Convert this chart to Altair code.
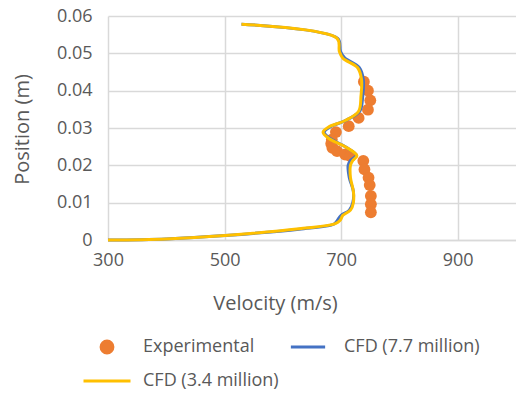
import altair as alt
import pandas as pd

# ---- data ----
series_names = ["Experimental", "CFD (7.7 million)", "CFD (3.4 million)"]
series_colors = ["#ED7D31", "#4472C4", "#FFC000"]

exp_vel = [739, 746, 750, 746, 730, 713, 691, 684, 683, 685, 693, 707, 716, 738, 740, 747, 749, 751, 751, 751]
exp_pos = [0.0424, 0.0400, 0.0374, 0.0349, 0.0327, 0.0305, 0.0289, 0.0269, 0.0258, 0.0247,
           0.0238, 0.0229, 0.0225, 0.0212, 0.0189, 0.0167, 0.0147, 0.0118, 0.0096, 0.0074]

cfd77_vel = [300, 400, 501, 628, 688, 694, 700, 714, 720, 721, 714, 712, 716, 726, 708, 681,
             671, 681, 709, 732, 737, 738, 731, 706, 699, 694, 529]
cfd77_pos = [0.0000, 0.0003, 0.0012, 0.0029, 0.0043, 0.0054, 0.0066, 0.0080, 0.0100, 0.0130,
             0.0167, 0.0200, 0.0213, 0.0227, 0.0249, 0.0272, 0.0289, 0.0303, 0.0321, 0.0345,
             0.0385, 0.0430, 0.0462, 0.0488, 0.0505, 0.0540, 0.0578]

cfd34_vel = [300, 400, 501, 628, 690, 698, 703, 716, 721, 721, 716, 716, 720, 727, 707, 679,
             669, 679, 707, 730, 734, 735, 728, 703, 697, 693, 529]
cfd34_pos = [0.0000, 0.0003, 0.0012, 0.0030, 0.0044, 0.0052, 0.0066, 0.0080, 0.0100, 0.0130,
             0.0167, 0.0200, 0.0213, 0.0226, 0.0250, 0.0272, 0.0289, 0.0303, 0.0320, 0.0345,
             0.0385, 0.0430, 0.0462, 0.0487, 0.0505, 0.0540, 0.0578]

x_ticks = [300, 500, 700, 900]
y_ticks = [0, 0.01, 0.02, 0.03, 0.04, 0.05, 0.06]

# ---- tables ----
exp_df = pd.DataFrame({"vel": exp_vel, "pos": exp_pos, "series": series_names[0]})
exp_df["idx"] = range(len(exp_df))
l1 = pd.DataFrame({"vel": cfd77_vel, "pos": cfd77_pos, "series": series_names[1]})
l1["idx"] = range(len(l1))
l2 = pd.DataFrame({"vel": cfd34_vel, "pos": cfd34_pos, "series": series_names[2]})
l2["idx"] = range(len(l2))
line_df = pd.concat([l1, l2], ignore_index=True)

FONT = "Open Sans"
TXT = "#595959"
GRID = "#D9D9D9"

legend = alt.Legend(
    title=None, orient="none", legendX=-26, legendY=321, columns=2,
    direction="horizontal", clipHeight=20, rowPadding=14, columnPadding=4,
    labelOffset=11, symbolStrokeWidth=3, labelFont=FONT, labelFontSize=18,
    labelColor=TXT, padding=0, symbolOffset=0,
)

color = alt.Color("series:N", scale=alt.Scale(domain=series_names, range=series_colors), legend=legend)

x = alt.X("vel:Q", scale=alt.Scale(domain=[300, 1000], nice=False, zero=False),
          axis=alt.Axis(values=x_ticks, title="Velocity (m/s)", labelPadding=11, labelFlush=False,
                        titleX=167, titleY=69, titleBaseline="alphabetic", titleAlign="center",
                        domain=True, domainColor=GRID, domainWidth=1.5))
y = alt.Y("pos:Q", scale=alt.Scale(domain=[0, 0.06], nice=False),
          axis=alt.Axis(values=y_ticks, title="Position (m)", labelPadding=16, labelFlush=False,
                        labelExpr="datum.value == 0 ? '0' : format(datum.value, '.2f')",
                        titleX=-80, titleY=113, titleBaseline="alphabetic", titleAlign="center",
                        domain=False))

points = alt.Chart(exp_df).mark_point(filled=True, opacity=1).encode(
    x=x, y=y, color=color,
    shape=alt.Shape("series:N", scale=alt.Scale(domain=series_names, range=["circle", "stroke", "stroke"]), legend=legend),
    size=alt.Size("series:N", scale=alt.Scale(domain=series_names, range=[140, 2209, 2209]), legend=legend),
)

lines = alt.Chart(line_df).mark_line(strokeWidth=3, interpolate="catmull-rom", strokeJoin="round").encode(
    x=x, y=y, color=color, order=alt.Order("idx:Q"),
)

chart = alt.layer(points, lines).properties(
    width=408, height=224,
    autosize=alt.AutoSizeParams(type="none"),
    padding={"left": 100, "top": 8, "right": 0, "bottom": 150},
).configure_axis(
    grid=True, gridColor=GRID, gridWidth=1.5, ticks=False,
    labelFont=FONT, labelFontSize=18, labelColor=TXT,
    titleFont=FONT, titleFontSize=20, titleColor=TXT, titleFontWeight="normal",
).configure_view(strokeWidth=0)

chart.save("out.html", embed_options={"renderer": "svg", "actions": False})
